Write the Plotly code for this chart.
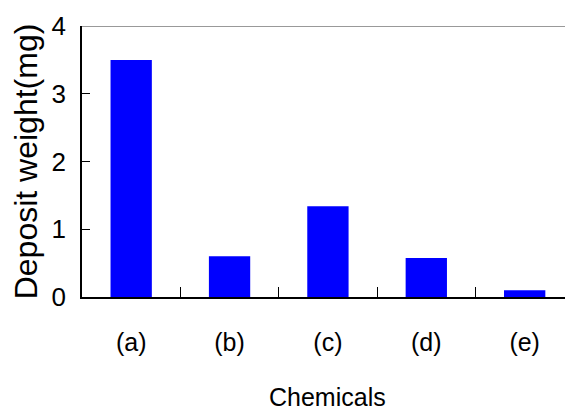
import plotly.graph_objects as go

categories = ["(a)", "(b)", "(c)", "(d)", "(e)"]
deposit_mg = [3.50, 0.60, 1.34, 0.575, 0.10]
y_ticks = [0, 1, 2, 3, 4]

fig = go.Figure()
fig.add_trace(go.Bar(x=categories, y=deposit_mg, marker=dict(color="#0000FF", line=dict(width=0)), width=0.42))

fig.update_layout(
    width=565, height=412,
    margin=dict(l=82, r=0, t=26, b=115, autoexpand=False),
    paper_bgcolor="white", plot_bgcolor="white",
    font=dict(family="Liberation Sans, Arial, sans-serif", color="black", size=24),
    showlegend=False,
    xaxis=dict(
        type="category", range=[-0.5, 4.41], showgrid=False, zeroline=False, automargin=False,
        showline=True, linecolor="black", linewidth=1.5,
        ticks="inside", ticklen=10, tickcolor="black", tickwidth=1, tickson="boundaries",
        tickfont=dict(size=25), ticklabelstandoff=22,
    ),
    yaxis=dict(
        range=[0, 4], tickvals=y_ticks, showgrid=False, zeroline=False, automargin=False,
        showline=True, linecolor="black", linewidth=1.5,
        ticks="inside", ticklen=8, tickcolor="black", tickwidth=1,
        tickfont=dict(size=26), ticklabelstandoff=9,
        title=dict(text="Deposit weight(mg)", font=dict(size=32), standoff=4),
    ),
    shapes=[dict(type="line", xref="paper", yref="y", x0=0, x1=1, y0=4, y1=4,
                 line=dict(color="#999999", width=2))],
    annotations=[dict(text="Chemicals", xref="x", yref="paper", x=2, y=0, yshift=-100,
                      showarrow=False, xanchor="center", yanchor="middle",
                      font=dict(family="Liberation Sans, sans-serif", size=25))],
)

fig.write_html("out.html", config={"displayModeBar": False},
               post_script="document.body.style.margin='0';document.body.style.overflow='hidden';")
